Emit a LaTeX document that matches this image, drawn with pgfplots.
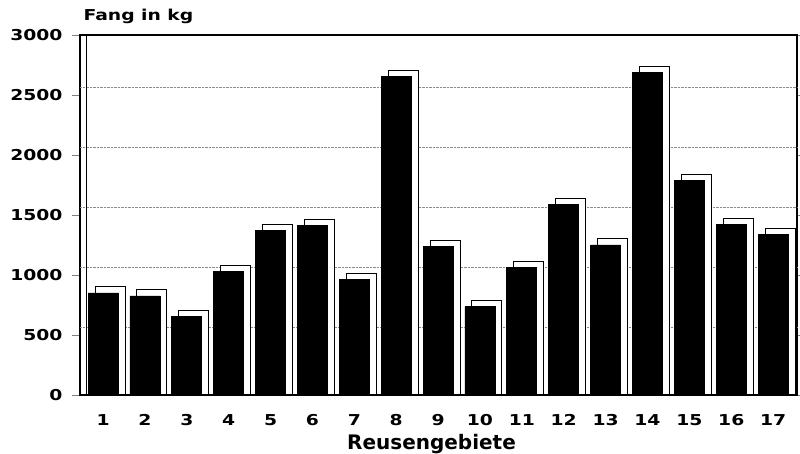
\documentclass[border=0pt]{standalone}
\usepackage{fontspec}
\setmainfont{DejaVu Sans}
\newfontfamily\widefont[FakeStretch=1.25]{DejaVu Sans}
\usepackage{pgfplots}
\pgfplotsset{compat=1.18}
\usepackage{pgfplotstable}

% Fang je Reusengebiet (kg)
\pgfplotstableread{
gebiet kg
1  850
2  825
3  655
4  1030
5  1370
6  1410
7  960
8  2655
9  1235
10 735
11 1060
12 1590
13 1250
14 2690
15 1790
16 1420
17 1340
}\fang

\begin{document}
\begin{tikzpicture}[x=1pt,y=1pt]
\useasboundingbox (0,0) rectangle (800,454);
\begin{axis}[
    at={(80pt,59pt)}, anchor=south west,
    scale only axis, width=717pt, height=360pt,
    xmin=0.45, xmax=17.57,
    ymin=0, ymax=3000,
    ytick={0,500,...,3000},
    xtick={1,...,17},
    extra y ticks={500,1000,...,2500},
    extra y tick labels={},
    extra y tick style={ymajorgrids=true, major tick length=0pt},
    /pgf/number format/1000 sep={},
    /pgf/number format/assume math mode=true,
    tick label style={font=\widefont\bfseries\fontsize{15}{15}\selectfont},
    yticklabel style={xshift=-6pt},
    xticklabel style={yshift=-8pt},
    tick align=outside,
    major tick length=8pt,
    xtick style={draw=none},
    axis line style={line width=1.2pt},
    grid style={densely dotted, black!45, line width=0.5pt, yshift=8pt},
    xlabel={Reusengebiete},
    xlabel style={font=\bfseries\fontsize{20}{20}\selectfont, yshift=-2pt, xshift=-7pt},
    ybar, bar width=30pt,
    clip=false,
]
% Seiten- und Deckflaeche (weiss, nach hinten versetzt)
\addplot[fill=white, draw=black, line width=1pt, bar shift=7pt]
    table[x=gebiet, y expr=\thisrow{kg}+50] {\fang};
% Vorderflaeche
\addplot[fill=black, draw=black, line width=0.8pt, bar shift=0pt]
    table[x=gebiet, y=kg] {\fang};
\draw[line width=1pt] ([xshift=6pt]rel axis cs:0,0) -- ([xshift=6pt]rel axis cs:0,1);
\node[anchor=base west, font=\widefont\bfseries\fontsize{15}{15}\selectfont]
    at ([yshift=14pt]rel axis cs:0,1) {Fang in kg};
\end{axis}
\end{tikzpicture}
\end{document}
